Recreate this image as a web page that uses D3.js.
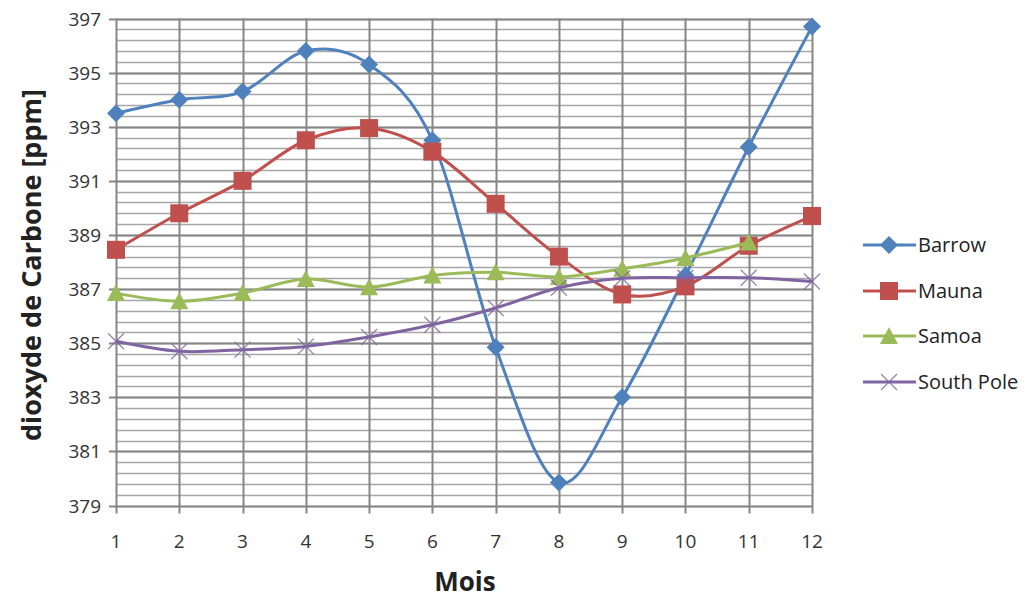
<!DOCTYPE html>
<html><head><meta charset="utf-8">
<script src="https://cdn.jsdelivr.net/npm/d3@7"></script>
<style>body{margin:0;background:#fff;} svg{display:block;}</style>
</head><body>
<svg id="chart" width="1031" height="598"></svg>
<script>
const months = [1,2,3,4,5,6,7,8,9,10,11,12];
const barrow    = [393.5, 394.0, 394.3, 395.8, 395.3, 392.5, 384.85, 379.85, 383.0, 387.5, 392.25, 396.7];
const mauna     = [388.45, 389.8, 391.0, 392.5, 392.95, 392.08, 390.15, 388.2, 386.8, 387.1, 388.6, 389.7];
const samoa     = [386.85, 386.55, 386.85, 387.37, 387.07, 387.5, 387.62, 387.45, 387.75, 388.15, 388.72];
const southPole = [385.07, 384.7, 384.76, 384.88, 385.23, 385.68, 386.3, 387.05, 387.4, 387.42, 387.42, 387.28];
const seriesNames = ["Barrow","Mauna","Samoa","South Pole"];
const seriesColors = ["#4F81BD","#C0504D","#9BBB59","#8064A2"];
const seriesSymbols = ["diamond","square","triangle","x"];
const yTicks = [379,381,383,385,387,389,391,393,395,397];

const svg = d3.select("#chart");
const x = d3.scaleLinear().domain([1,12]).range([116,812]);
const y = d3.scaleLinear().domain([379,397]).range([505.5,18.5]);
const font = "'Open Sans', 'DejaVu Sans', sans-serif";

// minor gridlines
const minor = d3.range(379, 397.001, 0.4);
svg.append("g").selectAll("line").data(minor).join("line")
  .attr("x1", x(1)).attr("x2", x(12))
  .attr("y1", d=>Math.round(y(d))+0.5).attr("y2", d=>Math.round(y(d))+0.5)
  .attr("stroke","#a6a6a6").attr("stroke-width",1.5);
// major gridlines
svg.append("g").selectAll("line").data(yTicks).join("line")
  .attr("x1", x(1)-7).attr("x2", x(12))
  .attr("y1", d=>Math.round(y(d))+0.5).attr("y2", d=>Math.round(y(d))+0.5)
  .attr("stroke","#868686").attr("stroke-width",2);
// vertical gridlines
svg.append("g").selectAll("line").data(months).join("line")
  .attr("x1", d=>Math.round(x(d))+0.5).attr("x2", d=>Math.round(x(d))+0.5)
  .attr("y1", y(397)).attr("y2", y(379)+8)
  .attr("stroke","#868686").attr("stroke-width",2);

// axes labels
svg.append("g").selectAll("text").data(yTicks).join("text")
  .attr("x", 101).attr("y", d=>y(d)+7)
  .attr("text-anchor","end").attr("font-family",font).attr("font-size",19).attr("fill","#333")
  .text(d=>d);
svg.append("g").selectAll("text").data(months).join("text")
  .attr("x", d=>x(d)).attr("y", 548)
  .attr("text-anchor","middle").attr("font-family",font).attr("font-size",19).attr("fill","#333")
  .text(d=>d);

svg.append("text").attr("x", 465).attr("y", 591).attr("text-anchor","middle")
  .attr("font-family",font).attr("font-size",26).attr("font-weight","bold").attr("fill","#222").text("Mois");
svg.append("text").attr("transform","translate(41,265) rotate(-90)").attr("text-anchor","middle")
  .attr("font-family",font).attr("font-size",27).attr("font-weight","bold").attr("fill","#222").text("dioxyde de Carbone [ppm]");

const allData = [barrow, mauna, samoa, southPole];
const line = d3.line().x((d,i)=>x(months[i])).y(d=>y(d)).curve(d3.curveCatmullRom.alpha(0));

function drawSymbol(g, type, color, cx, cy) {
  if (type==="diamond") {
    const s=9;
    g.append("path").attr("d",`M${cx},${cy-s}L${cx+s},${cy}L${cx},${cy+s}L${cx-s},${cy}Z`).attr("fill",color);
  } else if (type==="square") {
    g.append("rect").attr("x",cx-9).attr("y",cy-9).attr("width",18).attr("height",18).attr("fill",color);
  } else if (type==="triangle") {
    g.append("path").attr("d",`M${cx},${cy-9}L${cx+9},${cy+8}L${cx-9},${cy+8}Z`).attr("fill",color);
  } else {
    const s=8;
    g.append("path").attr("d",`M${cx-s},${cy-s}L${cx+s},${cy+s}M${cx-s},${cy+s}L${cx+s},${cy-s}`)
      .attr("stroke",color).attr("stroke-width",1.3).attr("fill","none").attr("opacity",0.8);
  }
}

allData.forEach((data,k)=>{
  const g = svg.append("g");
  g.append("path").datum(data).attr("d", line).attr("fill","none")
    .attr("stroke", seriesColors[k]).attr("stroke-width",3);
  data.forEach((v,i)=>drawSymbol(g, seriesSymbols[k], seriesColors[k], x(months[i]), y(v)));
});

// legend
const legY = [245, 291, 336, 382];
seriesNames.forEach((n,k)=>{
  const g = svg.append("g");
  g.append("line").attr("x1",863).attr("x2",916).attr("y1",legY[k]).attr("y2",legY[k])
    .attr("stroke",seriesColors[k]).attr("stroke-width",3);
  drawSymbol(g, seriesSymbols[k], seriesColors[k], 889, legY[k]);
  g.append("text").attr("x",918).attr("y",legY[k]+7).attr("font-family",font).attr("font-size",20)
    .attr("fill","#222").text(n);
});
</script>
</body></html>
